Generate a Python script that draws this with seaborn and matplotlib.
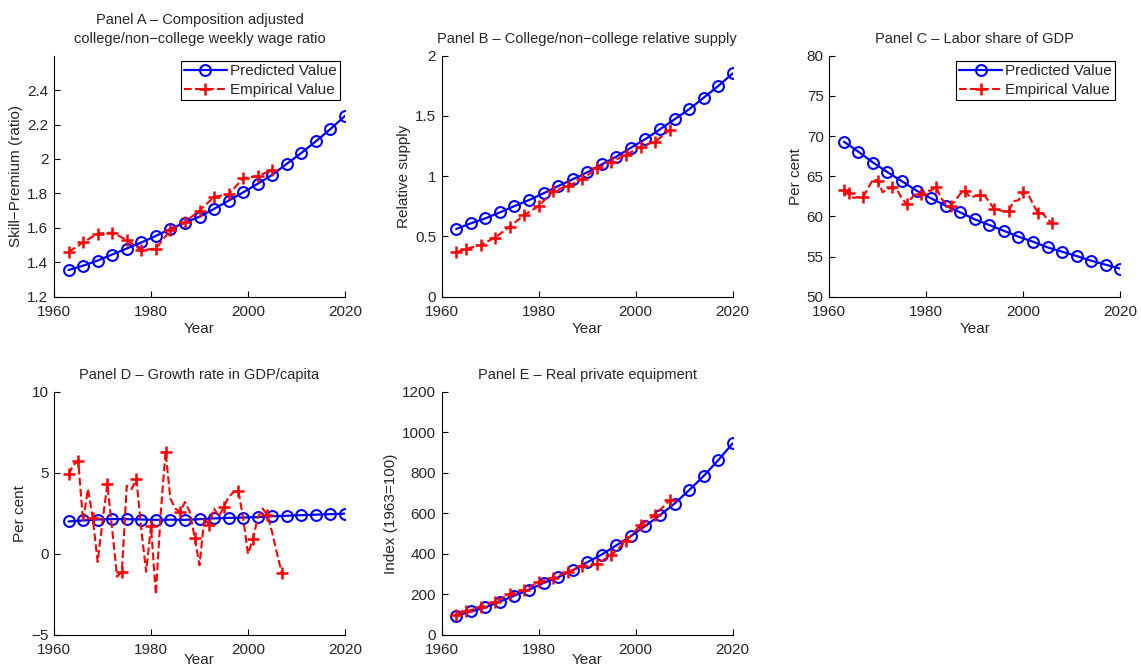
import numpy as np
import matplotlib
matplotlib.use('Agg')
import matplotlib.pyplot as plt
import seaborn as sns

# predicted series: every 3 years 1963-2020
pred_years = [1963, 1966, 1969, 1972, 1975, 1978, 1981, 1984, 1987, 1990,
              1993, 1996, 1999, 2002, 2005, 2008, 2011, 2014, 2017, 2020]

premium_pred = [1.355, 1.38, 1.41, 1.445, 1.48, 1.515, 1.553, 1.594, 1.63, 1.665,
                1.71, 1.758, 1.806, 1.856, 1.908, 1.972, 2.035, 2.103, 2.174, 2.25]
supply_pred = [0.562, 0.609, 0.65, 0.70, 0.752, 0.802, 0.858, 0.918, 0.974, 1.032,
               1.098, 1.162, 1.236, 1.308, 1.389, 1.472, 1.555, 1.651, 1.748, 1.853]
labor_pred = [69.3, 68.05, 66.7, 65.5, 64.36, 63.2, 62.24, 61.33, 60.5, 59.63,
              58.92, 58.2, 57.47, 56.85, 56.14, 55.6, 55.06, 54.48, 53.98, 53.49]
growth_pred = [2.0, 2.06, 2.12, 2.15, 2.14, 2.12, 2.1, 2.11, 2.1, 2.14,
               2.19, 2.22, 2.24, 2.27, 2.32, 2.35, 2.39, 2.42, 2.45, 2.48]
equip_pred = [94, 116, 136, 165, 194, 223, 257, 285, 319, 359,
              397, 442, 488, 538, 591, 648, 714, 784, 862, 945]

# empirical series
premium_years = [1963, 1966, 1969, 1972, 1975, 1978, 1981, 1984, 1987, 1990,
                 1993, 1996, 1999, 2002, 2005]
premium_emp = [1.46, 1.515, 1.567, 1.572, 1.53, 1.47, 1.48, 1.586, 1.634, 1.70,
               1.78, 1.794, 1.889, 1.90, 1.937]

sparse_years = [1963, 1965, 1968, 1971, 1974, 1977, 1980, 1983, 1986, 1989,
                1992, 1995, 1998, 2001, 2004, 2007]
supply_emp = [0.368, 0.396, 0.429, 0.49, 0.581, 0.678, 0.752, 0.877, 0.918, 0.974,
              1.065, 1.12, 1.176, 1.245, 1.286, 1.383]
equip_emp = [100, 116, 137, 165, 200, 223, 261, 281, 311, 339,
             351, 394, 463, 543, 591, 665]

# annual series (markers only on some years)
labor_years = list(range(1963, 2007))
labor_emp = [63.3, 62.95, 62.3, 62.4, 62.45, 63.5, 64.6, 64.44, 63.0, 63.4,
             63.6, 63.3, 62.2, 61.5, 62.3, 62.9, 62.74, 63.2, 63.2, 63.7,
             62.3, 61.6, 61.3, 62.0, 62.8, 63.2, 62.4, 62.5, 62.66, 62.6,
             61.8, 60.9, 60.8, 60.6, 60.66, 61.9, 62.0, 63.07, 62.8, 61.5,
             60.46, 60.4, 59.6, 59.13]

growth_years = list(range(1963, 2008))
growth_emp = [4.9, 5.5, 5.7, 2.0, 4.0, 2.2, -0.5, 2.0, 4.3, 1.5,
              -1.4, -1.1, 4.2, 4.0, 4.6, 1.5, -1.1, 1.7, -2.5, 2.5,
              6.3, 3.4, 2.8, 2.6, 3.2, 2.6, 1.0, -0.7, 2.2, 1.8,
              2.8, 2.3, 2.9, 3.5, 3.8, 3.9, 2.2, 0.0, 0.9, 2.2,
              2.8, 2.4, 1.3, 0.0, -1.2]


def marks(n):
    # first point plus every third point counted back from the last
    return sorted(set([0] + list(range(n - 1, -1, -3))))


sns.set_style('white')
plt.rcParams['font.family'] = ['Liberation Sans', 'DejaVu Sans']
plt.rcParams['xtick.direction'] = 'in'
plt.rcParams['ytick.direction'] = 'in'

fs = 11
fig = plt.figure(figsize=(11.41, 6.70), dpi=100, facecolor='white')

W = 291 / 1141
top_b, top_h = (670 - 296.7) / 670, 241 / 670
bot_b, bot_h = (670 - 635) / 670, 243.3 / 670
lefts = [54 / 1141, 441.7 / 1141, 829.3 / 1141]

BLUE = (0, 0, 1)
RED = (1, 0, 0)


def settings_plot(ax, ylim, yticks, ylabel, title, xpad=5, lpad=2):
    ax.set_xlim(1960, 2020)
    ax.set_xticks([1960, 1980, 2000, 2020])
    ax.set_ylim(*ylim)
    ax.set_yticks(yticks)
    ax.set_yticklabels(['%g' % t if t >= 0 else '\u2212%g' % -t for t in yticks])
    for s in ['top', 'right']:
        ax.spines[s].set_visible(False)
    for s in ['left', 'bottom']:
        ax.spines[s].set_color('black')
        ax.spines[s].set_linewidth(0.8)
    ax.tick_params(axis='both', length=4, width=0.8, color='black',
                   labelsize=fs, bottom=True, left=True)
    ax.tick_params(axis='x', pad=xpad)
    ax.tick_params(axis='y', pad=4)
    ax.set_xlabel('Year', fontsize=fs, labelpad=lpad)
    ax.set_ylabel(ylabel, fontsize=fs, labelpad=3)
    ax.set_title(title, fontsize=10.5, pad=9, linespacing=1.45)
    ax.grid(False)
    ax.set_facecolor('white')
    return ax


def draw(ax, y_pred, x_emp, y_emp, legend, every=None):
    sns.lineplot(x=pred_years, y=y_pred, ax=ax, color=BLUE, lw=1.6,
                 marker='o', ms=7.8, mfc='none', mec=BLUE, mew=1.5,
                 label='Predicted Value', legend=False, zorder=2)
    sns.lineplot(x=x_emp, y=y_emp, ax=ax, color=RED, lw=1.5, ls='--',
                 dashes=(3.0, 2.2), marker='+', ms=9, mec=RED, mew=1.8,
                 markevery=every,
                 label='Empirical Value', legend=False, zorder=3)
    if legend:
        h, l = ax.get_legend_handles_labels()
        leg = ax.legend(h, l, loc='upper right', fontsize=fs, frameon=True,
                        fancybox=False, edgecolor='black', framealpha=1,
                        borderpad=0.2, handlelength=2.8, handletextpad=0.2,
                        labelspacing=0.32, borderaxespad=0.35)
        leg.get_frame().set_linewidth(0.8)


ax = fig.add_axes([lefts[0], top_b, W, top_h])
draw(ax, premium_pred, premium_years, premium_emp, True)
settings_plot(ax, (1.2, 2.6), [1.2, 1.4, 1.6, 1.8, 2.0, 2.2, 2.4],
              'Skill\u2212Premium (ratio)',
              'Panel A \u2013 Composition adjusted\ncollege/non\u2212college weekly wage ratio',
              xpad=6)

ax = fig.add_axes([lefts[1], top_b, W, top_h])
draw(ax, supply_pred, sparse_years, supply_emp, False)
settings_plot(ax, (0, 2), [0, 0.5, 1, 1.5, 2], 'Relative supply',
              'Panel B \u2013 College/non\u2212college relative supply', xpad=6)

ax = fig.add_axes([lefts[2], top_b, W, top_h])
draw(ax, labor_pred, labor_years, labor_emp, True, marks(len(labor_years)))
settings_plot(ax, (50, 80), [50, 55, 60, 65, 70, 75, 80], 'Per cent',
              'Panel C \u2013 Labor share of GDP', xpad=6)

ax = fig.add_axes([lefts[0], bot_b, W, bot_h])
draw(ax, growth_pred, growth_years, growth_emp, False, marks(len(growth_years)))
settings_plot(ax, (-5, 10), [-5, 0, 5, 10], 'Per cent',
              'Panel D \u2013 Growth rate in GDP/capita', xpad=6, lpad=-3)

ax = fig.add_axes([lefts[1], bot_b, W, bot_h])
draw(ax, equip_pred, sparse_years, equip_emp, False)
settings_plot(ax, (0, 1200), [0, 200, 400, 600, 800, 1000, 1200], 'Index (1963=100)',
              'Panel E \u2013 Real private equipment', xpad=6, lpad=-3)

plt.savefig('out.png', dpi=100, facecolor='white')
